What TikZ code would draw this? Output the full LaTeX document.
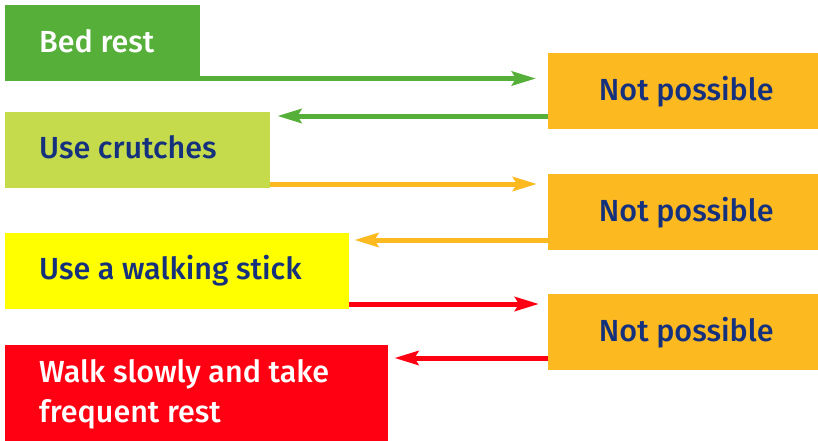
\documentclass[tikz,border=0pt]{standalone}
\usepackage{fontspec}
\setmainfont{Fira Sans Medium}
\usetikzlibrary{arrows.meta}
\definecolor{cgreen}{HTML}{55AF39}
\definecolor{clime}{HTML}{C5DB4C}
\definecolor{cyellow}{HTML}{FFFF00}
\definecolor{cred}{HTML}{FF0013}
\definecolor{corange}{HTML}{FDB920}
\definecolor{cblue}{HTML}{15317E}
\begin{document}
\begin{tikzpicture}[x=1pt,y=-1pt,
  box/.style={rectangle, inner sep=0pt, anchor=north west, draw=none},
  lbl/.style={inner sep=0pt, font=\fontsize{30.5}{40}\selectfont, align=left},
  conn/.style={line width=5pt, -{Stealth[length=24pt,width=14pt,inset=4pt]}}]
\useasboundingbox (0,0) rectangle (818,441);
% left boxes
\node[box, fill=cgreen, minimum width=195pt, minimum height=76pt] (bed) at (5,5) {};
\node[box, fill=clime, minimum width=265pt, minimum height=76pt] (crutch) at (5,112) {};
\node[box, fill=cyellow, minimum width=344pt, minimum height=76pt] (stick) at (5,233) {};
\node[box, fill=cred, minimum width=383pt, minimum height=96pt] (walk) at (5,345) {};
% right boxes
\node[box, fill=corange, minimum width=270pt, minimum height=76pt] (np1) at (548,53) {};
\node[box, fill=corange, minimum width=270pt, minimum height=76pt] (np2) at (548,174) {};
\node[box, fill=corange, minimum width=270pt, minimum height=76pt] (np3) at (548,294) {};
% labels
\node[lbl, text=white, anchor=base west] (tbed) at ([xshift=34pt,yshift=-9.5pt]bed.west) {Bed rest};
\node[lbl, text=cblue, anchor=base west] (tcrutch) at ([xshift=34pt,yshift=-8pt]crutch.west) {Use crutches};
\node[lbl, text=cblue, anchor=base west] (tstick) at ([xshift=34pt,yshift=-8pt]stick.west) {Use a walking stick};
\node[lbl, text=white, anchor=west] (twalk) at ([xshift=34pt,yshift=-1pt]walk.west) {Walk slowly and take\\frequent rest};
\node[lbl, text=cblue, anchor=base] (tnp1) at ([xshift=3pt,yshift=-9pt]np1.center) {Not possible};
\node[lbl, text=cblue, anchor=base] (tnp2) at ([xshift=3pt,yshift=-9pt]np2.center) {Not possible};
\node[lbl, text=cblue, anchor=base] (tnp3) at ([xshift=3pt,yshift=-9pt]np3.center) {Not possible};
% connectors
\draw[conn, cgreen, shorten >=12pt] ([xshift=-3pt]bed.east |- 0,78.5) -- (np1.west |- 0,78.5);
\draw[conn, cgreen, shorten >=7pt] (np1.west |- 0,116) -- (crutch.east |- 0,116);
\draw[conn, corange, shorten >=11pt] (crutch.east |- 0,184) -- (np2.west |- 0,184);
\draw[conn, corange, shorten >=5pt] (np2.west |- 0,240) -- (stick.east |- 0,240);
\draw[conn, cred, shorten >=9pt] (stick.east |- 0,304) -- (np3.west |- 0,304);
\draw[conn, cred, shorten >=6pt] (np3.west |- 0,358) -- (walk.east |- 0,358);
\end{tikzpicture}
\end{document}
